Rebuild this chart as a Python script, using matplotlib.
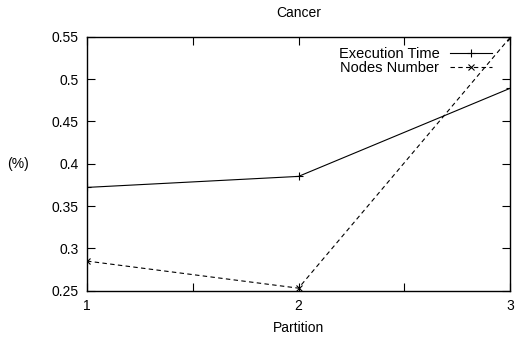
import matplotlib
matplotlib.use("Agg")
from matplotlib import pyplot as plt
from matplotlib.ticker import FixedLocator

plt.rcParams['font.family'] = ['Liberation Sans', 'DejaVu Sans']
plt.rcParams['font.size'] = 10

# Partition results
partitions = [1, 2, 3]
exec_time = [0.372, 0.385, 0.489]
nodes_number = [0.285, 0.253, 0.549]
xticks = [1, 1.5, 2, 2.5, 3]
xtick_labels = ['1', '', '2', '', '3']
yticks = [0.25, 0.3, 0.35, 0.4, 0.45, 0.5, 0.55]
ytick_labels = ['0.25', '0.3', '0.35', '0.4', '0.45', '0.5', '0.55']

fig = plt.figure(figsize=(5.18, 3.42), dpi=100)
ax = fig.add_axes([87 / 518, 1 - 290.7 / 342, 423 / 518, 254 / 342])

ax.plot(partitions, exec_time, color='black', lw=0.8, marker='+', ms=6,
        mew=0.8, label='Execution Time')
ax.plot(partitions, nodes_number, color='black', lw=0.8, ls=(0, (4, 3)),
        marker='x', ms=5, mew=0.8, label='Nodes Number')

ax.set_xlim(1, 3)
ax.set_ylim(0.25, 0.55)
ax.xaxis.set_major_locator(FixedLocator(xticks))
ax.set_xticklabels(xtick_labels)
ax.yaxis.set_major_locator(FixedLocator(yticks))
ax.set_yticklabels(ytick_labels)

# gnuplot-like inward ticks on all four sides
ax.tick_params(direction='in', length=6, width=0.8, top=True, right=True,
               pad=6)
for s in ax.spines.values():
    s.set_linewidth(1.0)

ax.set_title('Cancer', fontsize=10, pad=14)
ax.set_xlabel('Partition', labelpad=6)
ax.set_ylabel('(%)', rotation=0, labelpad=24, va='center')

ax.legend(loc='upper right', bbox_to_anchor=(0.957, 0.958), frameon=False,
          markerfirst=False, handlelength=2.9, handletextpad=0.7,
          borderaxespad=0, borderpad=0, labelspacing=0.0, fontsize=10.5)

fig.savefig('out.png', dpi=100)
